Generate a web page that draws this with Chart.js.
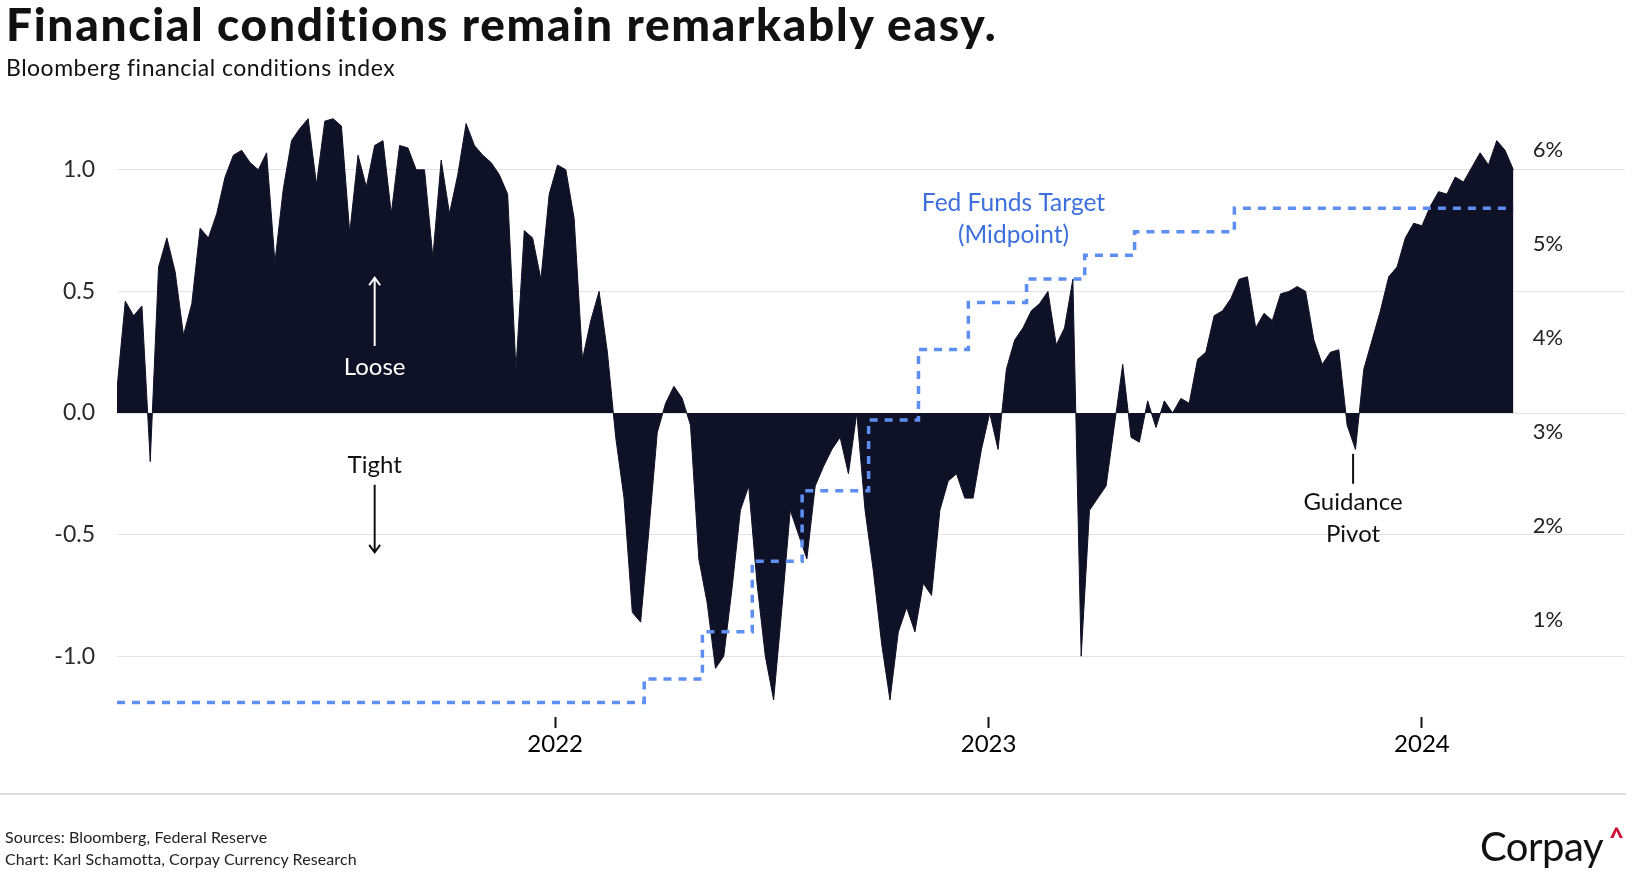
<!DOCTYPE html>
<html>
<head>
<meta charset="utf-8">
<title>Financial conditions remain remarkably easy.</title>
<script src="https://cdn.jsdelivr.net/npm/chart.js@4.4.1/dist/chart.umd.min.js"></script>
<style>
  html, body { margin: 0; padding: 0; background: #fff; }
  body { width: 1632px; height: 874px; position: relative; overflow: hidden; font-family: Lato, "Open Sans", sans-serif; color: #111; }
  #chart { position: absolute; left: 0; top: 0; }
  .txt { position: absolute; white-space: nowrap; line-height: 1; }
  #title { left: 6px; top: 1px; font-size: 46px; font-weight: 900; letter-spacing: 1.7px; }
  #subtitle { left: 6px; top: 56px; font-size: 23px; letter-spacing: 0.5px; }
  #rule { position: absolute; left: 0; top: 793px; width: 1626px; height: 1.5px; background: #dcdcdc; }
  .foot { left: 5px; font-size: 16px; letter-spacing: 0.1px; color: #222; }
  #logo { left: 1480px; top: 826px; font-size: 40px; letter-spacing: -0.5px; color: #111; }
  #caret { left: 1609px; top: 824px; font-size: 26px; font-weight: 900; color: #d0103a; }
</style>
</head>
<body>
<canvas id="chart" width="1632" height="874"></canvas>
<div class="txt" id="title">Financial conditions remain remarkably easy.</div>
<div class="txt" id="subtitle">Bloomberg financial conditions index</div>
<div id="rule"></div>
<div class="txt foot" style="top:829px">Sources: Bloomberg, Federal Reserve</div>
<div class="txt foot" style="top:851px">Chart: Karl Schamotta, Corpay Currency Research</div>
<div class="txt" id="logo">Corpay</div>
<div class="txt" id="caret">^</div>

<script>
// ==========================================
// DADOS: índice semanal (cada array começa numa segunda-feira)
// ==========================================
const weekStart2021 = '2020-12-28';
const fci2021 = [0.10, 0.46, 0.40, 0.44, -0.20, 0.60, 0.72, 0.58, 0.32, 0.45,
  0.76, 0.72, 0.82, 0.97, 1.06, 1.08, 1.03, 1.00, 1.07, 0.62,
  0.92, 1.12, 1.17, 1.21, 0.94, 1.20, 1.21, 1.18, 0.74, 1.06,
  0.93, 1.10, 1.12, 0.82, 1.10, 1.09, 1.00, 1.00, 0.64, 1.04,
  0.82, 0.98, 1.19, 1.10, 1.06, 1.03, 0.98, 0.90, 0.18, 0.75,
  0.72, 0.55, 0.90];

const weekStart2022 = '2022-01-03';
const fci2022 = [1.02, 1.00, 0.80, 0.22, 0.38, 0.50, 0.25, -0.10, -0.35, -0.82,
  -0.86, -0.48, -0.08, 0.04, 0.11, 0.06, -0.05, -0.60, -0.78, -1.05,
  -1.00, -0.72, -0.40, -0.30, -0.70, -1.00, -1.18, -0.80, -0.40, -0.50,
  -0.60, -0.30, -0.22, -0.15, -0.10, -0.25, 0.00, -0.40, -0.65, -0.95,
  -1.18, -0.90, -0.80, -0.90, -0.70, -0.75, -0.40, -0.28, -0.25, -0.35,
  -0.35, -0.15];

const weekStart2023 = '2023-01-02';
const fci2023 = [0.00, -0.15, 0.18, 0.30, 0.35, 0.42, 0.45, 0.50, 0.28, 0.35,
  0.55, -1.00, -0.40, -0.35, -0.30, -0.05, 0.20, -0.10, -0.12, 0.05,
  -0.06, 0.05, 0.00, 0.06, 0.04, 0.22, 0.25, 0.40, 0.42, 0.47,
  0.55, 0.56, 0.35, 0.41, 0.38, 0.49, 0.50, 0.52, 0.50, 0.30,
  0.20, 0.25, 0.26, -0.05, -0.15, 0.18, 0.30, 0.42, 0.56, 0.60,
  0.72, 0.78];

const weekStart2024 = '2024-01-01';
const fci2024 = [0.77, 0.85, 0.91, 0.90, 0.97, 0.95, 1.01, 1.07, 1.02, 1.12, 1.08, 1.00];

// Fed Funds (ponto médio da meta), datas das decisões do FOMC
const fedDates = ['2020-12-28', '2022-03-17', '2022-05-05', '2022-06-16', '2022-07-28', '2022-09-22',
  '2022-11-03', '2022-12-15', '2023-02-02', '2023-03-23', '2023-05-04', '2023-07-27', '2024-03-18'];
const fedMid = [0.125, 0.375, 0.875, 1.625, 2.375, 3.125, 3.875, 4.375, 4.625, 4.875, 5.125, 5.375, 5.375];

// eixos
const yearTicks = [2022, 2023, 2024];
const leftTicks = [-1, -0.5, 0, 0.5, 1];
const rightTicks = [1, 2, 3, 4, 5, 6];

// ==========================================
// helpers
// ==========================================
const DAY = 864e5;
const dayNum = s => Date.parse(s + 'T00:00:00Z') / DAY;

function semanas(inicio, valores) {
  const d0 = dayNum(inicio);
  return valores.map((v, i) => ({ x: d0 + i * 7, y: v }));
}

const fciPontos = [
  ...semanas(weekStart2021, fci2021),
  ...semanas(weekStart2022, fci2022),
  ...semanas(weekStart2023, fci2023),
  ...semanas(weekStart2024, fci2024)
];
const fedPontos = fedDates.map((d, i) => ({ x: dayNum(d), y: fedMid[i] }));

const FONTE = 'Lato, "Open Sans", sans-serif';

function seta(ctx, x, yIni, yFim, cor) {
  // linha vertical com ponta aberta em yFim
  const dir = yFim < yIni ? -1 : 1;
  ctx.strokeStyle = cor;
  ctx.lineWidth = 2;
  ctx.beginPath();
  ctx.moveTo(x, yIni);
  ctx.lineTo(x, yFim);
  ctx.moveTo(x - 5.5, yFim - dir * 7.5);
  ctx.lineTo(x, yFim);
  ctx.lineTo(x + 5.5, yFim - dir * 7.5);
  ctx.stroke();
}

// anotações (posições em coordenadas de dados)
const notas = {
  id: 'notas',
  afterDatasetsDraw(chart) {
    const { ctx, scales: { x, y, y2 } } = chart;
    ctx.save();
    ctx.textAlign = 'center';
    ctx.textBaseline = 'middle';
    ctx.font = '24px ' + FONTE;

    // Loose / Tight
    const lx = x.getPixelForValue(dayNum('2021-08-02'));
    seta(ctx, lx, y.getPixelForValue(0.276), y.getPixelForValue(0.556), '#fff');
    ctx.fillStyle = '#fff';
    ctx.fillText('Loose', lx, y.getPixelForValue(0.186));
    ctx.fillStyle = '#111';
    ctx.fillText('Tight', lx, y.getPixelForValue(-0.213));
    seta(ctx, lx, y.getPixelForValue(-0.295), y.getPixelForValue(-0.573), '#111');

    // Guidance Pivot
    const gx = x.getPixelForValue(dayNum('2023-11-04'));
    ctx.strokeStyle = '#111';
    ctx.lineWidth = 2;
    ctx.beginPath();
    ctx.moveTo(gx, y.getPixelForValue(-0.168));
    ctx.lineTo(gx, y.getPixelForValue(-0.291));
    ctx.stroke();
    ctx.fillText('Guidance', gx, y.getPixelForValue(-0.369));
    ctx.fillText('Pivot', gx, y.getPixelForValue(-0.50));

    // Fed Funds Target
    const fx = x.getPixelForValue(dayNum('2023-01-22'));
    ctx.fillStyle = '#3d70dc';
    ctx.font = '24.5px ' + FONTE;
    ctx.fillText('Fed Funds Target', fx, y.getPixelForValue(0.864));
    ctx.fillText('(Midpoint)', fx, y.getPixelForValue(0.732));

    // rótulos do eixo da direita (%), dentro da área do gráfico
    ctx.font = '22px ' + FONTE;
    ctx.fillStyle = '#222';
    rightTicks.forEach(v => {
      ctx.fillText(v + '%', 1548, y2.getPixelForValue(v));
    });
    ctx.restore();
  }
};

new Chart(document.getElementById('chart'), {
  type: 'line',
  data: {
    datasets: [
      {
        label: 'Fed Funds Target (Midpoint)',
        data: fedPontos,
        yAxisID: 'y2',
        stepped: true,
        borderColor: '#5d8ff2',
        borderWidth: 3.5,
        borderDash: [8, 7],
        pointRadius: 0,
        fill: false,
        order: 0
      },
      {
        label: 'Bloomberg financial conditions index',
        data: fciPontos,
        yAxisID: 'y',
        borderColor: '#0f1226',
        backgroundColor: '#0f1226',
        borderWidth: 1,
        pointRadius: 0,
        tension: 0,
        fill: 'origin',
        order: 1
      }
    ]
  },
  options: {
    responsive: false,
    animation: false,
    devicePixelRatio: 1,
    layout: { padding: { top: 109, right: 7, bottom: 0, left: 0 } },
    plugins: { legend: { display: false }, tooltip: { enabled: false } },
    scales: {
      x: {
        type: 'linear',
        min: dayNum('2020-12-28'),
        max: dayNum('2024-06-20'),
        afterFit: s => { s.height = 157; },
        afterBuildTicks: s => { s.ticks = yearTicks.map(a => ({ value: dayNum(a + '-01-01') })); },
        grid: { drawOnChartArea: false, drawTicks: true, tickLength: 11, tickWidth: 2, tickColor: '#111' },
        border: { display: false },
        ticks: {
          padding: 2,
          color: '#000',
          font: { family: FONTE, size: 24 },
          maxRotation: 0,
          callback: v => String(new Date(v * DAY).getUTCFullYear())
        }
      },
      y: {
        position: 'left',
        min: -1.25,
        max: 1.25,
        afterFit: s => { s.width = 117; },
        afterBuildTicks: s => { s.ticks = leftTicks.map(v => ({ value: v })); },
        grid: { color: '#e3e3e3', lineWidth: 1, drawTicks: false },
        border: { display: false },
        ticks: {
          padding: 22,
          color: '#2a2a2a',
          font: { family: FONTE, size: 23 },
          callback: v => v.toFixed(1)
        }
      },
      y2: {
        position: 'right',
        display: false,
        min: -0.03,
        max: 6.43
      }
    }
  },
  plugins: [notas]
});
</script>
</body>
</html>
